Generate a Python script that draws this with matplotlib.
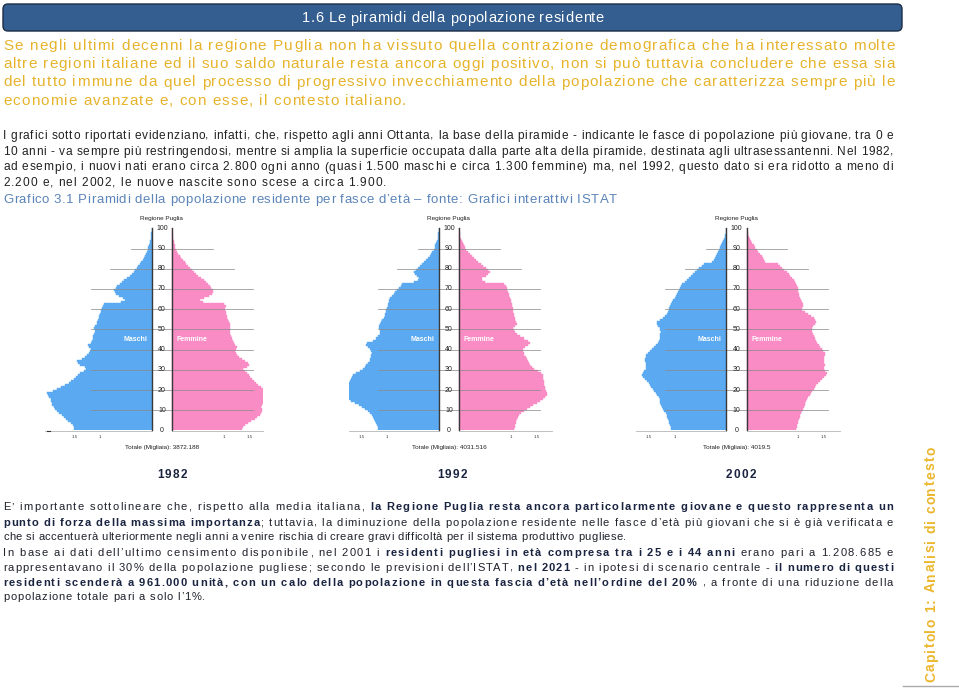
import numpy as np
import matplotlib
matplotlib.use("Agg")
import matplotlib.pyplot as plt
from matplotlib.patches import FancyBboxPatch
from matplotlib.font_manager import FontProperties

FAMILY = ['Liberation Sans', 'DejaVu Sans']
plt.rcParams['font.family'] = FAMILY

# --- Data (Regione Puglia) ---
AGES = np.arange(101)
YEARS = ['1982', '1992', '2002']
TOTALS = ['3872.188', '4031.516', '4019.5']
TICKS = [1, 1.5]
GRID_AGES = [10, 20, 30, 40, 50, 60, 70, 80, 90]

MALE_1982 = [
    1.50, 1.51, 1.53, 1.57, 1.62, 1.66, 1.70, 1.74, 1.79, 1.83,
    1.87, 1.90, 1.93, 1.94, 1.95, 1.96, 1.99, 2.01, 2.02, 1.92,
    1.84, 1.75, 1.68, 1.61, 1.56, 1.51, 1.47, 1.42, 1.38, 1.32,
    1.27, 1.30, 1.39, 1.43, 1.45, 1.36, 1.30, 1.26, 1.21, 1.19,
    1.18, 1.21, 1.23, 1.17, 1.16, 1.14, 1.13, 1.12, 1.10, 1.10,
    1.11, 1.09, 1.07, 1.06, 1.04, 1.03, 1.02, 1.00, 0.99, 0.98,
    0.97, 0.95, 0.93, 0.60, 0.52, 0.56, 0.64, 0.70, 0.72, 0.73,
    0.70, 0.67, 0.62, 0.57, 0.53, 0.48, 0.43, 0.39, 0.35, 0.32,
    0.29, 0.26, 0.23, 0.21, 0.18, 0.16, 0.14, 0.12, 0.10, 0.08,
    0.065, 0.05, 0.04, 0.03, 0.02, 0.015, 0.01, 0.008, 0.005, 0.003,
    0.002]
FEMALE_1982 = [
    1.36, 1.37, 1.42, 1.47, 1.53, 1.60, 1.65, 1.70, 1.73, 1.75,
    1.74, 1.72, 1.74, 1.78, 1.81, 1.84, 1.87, 1.88, 1.84, 1.79,
    1.76, 1.72, 1.67, 1.63, 1.58, 1.55, 1.51, 1.48, 1.45, 1.41,
    1.38, 1.45, 1.49, 1.47, 1.42, 1.35, 1.30, 1.26, 1.23, 1.21,
    1.24, 1.26, 1.22, 1.19, 1.18, 1.16, 1.14, 1.13, 1.12, 1.12,
    1.13, 1.13, 1.12, 1.10, 1.08, 1.07, 1.06, 1.05, 1.04, 1.02,
    1.03, 1.04, 1.00, 0.60, 0.54, 0.62, 0.72, 0.77, 0.79, 0.79,
    0.76, 0.73, 0.70, 0.66, 0.61, 0.56, 0.51, 0.47, 0.42, 0.38,
    0.34, 0.31, 0.28, 0.25, 0.21, 0.18, 0.15, 0.12, 0.10, 0.08,
    0.06, 0.05, 0.04, 0.03, 0.02, 0.015, 0.01, 0.007, 0.005, 0.003,
    0.002]
MALE_1992 = [
    1.17, 1.18, 1.19, 1.21, 1.23, 1.25, 1.28, 1.30, 1.33, 1.37,
    1.42, 1.49, 1.55, 1.63, 1.70, 1.76, 1.80, 1.84, 1.83, 1.81,
    1.79, 1.77, 1.75, 1.73, 1.71, 1.69, 1.68, 1.66, 1.60, 1.52,
    1.46, 1.42, 1.40, 1.37, 1.34, 1.33, 1.32, 1.31, 1.30, 1.31,
    1.33, 1.37, 1.40, 1.38, 1.28, 1.21, 1.17, 1.14, 1.13, 1.13,
    1.16, 1.15, 1.13, 1.11, 1.10, 1.07, 1.05, 1.04, 1.03, 1.02,
    1.00, 0.99, 0.98, 0.97, 0.96, 0.94, 0.91, 0.87, 0.84, 0.80,
    0.77, 0.74, 0.72, 0.48, 0.40, 0.39, 0.42, 0.47, 0.48, 0.45,
    0.41, 0.36, 0.32, 0.28, 0.25, 0.21, 0.18, 0.15, 0.13, 0.10,
    0.08, 0.065, 0.05, 0.035, 0.025, 0.018, 0.012, 0.008, 0.005, 0.003,
    0.002]
FEMALE_1992 = [
    1.07, 1.08, 1.09, 1.10, 1.11, 1.13, 1.15, 1.17, 1.20, 1.25,
    1.31, 1.37, 1.44, 1.51, 1.57, 1.62, 1.67, 1.70, 1.71, 1.68,
    1.66, 1.66, 1.65, 1.65, 1.64, 1.63, 1.63, 1.62, 1.58, 1.53,
    1.46, 1.41, 1.37, 1.35, 1.33, 1.31, 1.29, 1.26, 1.25, 1.24,
    1.23, 1.28, 1.34, 1.37, 1.33, 1.25, 1.18, 1.13, 1.09, 1.06,
    1.05, 1.09, 1.12, 1.10, 1.09, 1.08, 1.07, 1.06, 1.05, 1.05,
    1.04, 1.03, 1.02, 1.01, 1.00, 0.99, 0.97, 0.96, 0.94, 0.93,
    0.92, 0.90, 0.88, 0.50, 0.45, 0.44, 0.52, 0.57, 0.59, 0.56,
    0.52, 0.47, 0.42, 0.37, 0.33, 0.29, 0.25, 0.21, 0.17, 0.14,
    0.11, 0.09, 0.07, 0.05, 0.035, 0.025, 0.017, 0.011, 0.007, 0.004,
    0.002]
MALE_2002 = [
    1.07, 1.08, 1.09, 1.10, 1.11, 1.12, 1.14, 1.15, 1.17, 1.20,
    1.23, 1.25, 1.27, 1.28, 1.29, 1.29, 1.31, 1.34, 1.37, 1.40,
    1.42, 1.45, 1.47, 1.50, 1.54, 1.58, 1.61, 1.63, 1.62, 1.59,
    1.56, 1.55, 1.55, 1.56, 1.58, 1.58, 1.56, 1.55, 1.52, 1.47,
    1.43, 1.39, 1.36, 1.33, 1.31, 1.29, 1.28, 1.28, 1.27, 1.28,
    1.29, 1.33, 1.35, 1.34, 1.28, 1.23, 1.18, 1.14, 1.12, 1.11,
    1.10, 1.09, 1.07, 1.05, 1.03, 1.00, 0.98, 0.96, 0.94, 0.92,
    0.90, 0.88, 0.85, 0.80, 0.77, 0.72, 0.68, 0.64, 0.60, 0.56,
    0.52, 0.48, 0.44, 0.27, 0.23, 0.22, 0.20, 0.19, 0.16, 0.14,
    0.12, 0.10, 0.08, 0.06, 0.045, 0.03, 0.02, 0.013, 0.008, 0.005,
    0.003]
FEMALE_2002 = [
    0.96, 0.97, 0.98, 0.99, 1.00, 1.01, 1.03, 1.04, 1.06, 1.08,
    1.10, 1.12, 1.13, 1.14, 1.15, 1.17, 1.19, 1.22, 1.24, 1.27,
    1.30, 1.33, 1.35, 1.39, 1.43, 1.46, 1.50, 1.54, 1.55, 1.52,
    1.50, 1.50, 1.51, 1.50, 1.49, 1.49, 1.50, 1.52, 1.51, 1.48,
    1.46, 1.43, 1.40, 1.37, 1.34, 1.32, 1.30, 1.28, 1.27, 1.26,
    1.26, 1.29, 1.32, 1.34, 1.33, 1.30, 1.24, 1.19, 1.13, 1.08,
    1.07, 1.09, 1.10, 1.08, 1.06, 1.04, 1.02, 1.01, 1.00, 0.99,
    0.99, 0.98, 0.96, 0.94, 0.91, 0.88, 0.85, 0.82, 0.78, 0.73,
    0.69, 0.65, 0.60, 0.35, 0.33, 0.31, 0.30, 0.27, 0.23, 0.20,
    0.17, 0.14, 0.10, 0.08, 0.06, 0.045, 0.03, 0.02, 0.012, 0.007,
    0.004]

MALES = [MALE_1982, MALE_1992, MALE_2002]
FEMALES = [FEMALE_1982, FEMALE_1992, FEMALE_2002]

# --- Page text ---
TITLE = "1.6 Le piramidi della popolazione residente"
INTRO = [
    "Se negli ultimi decenni la regione Puglia non ha vissuto quella contrazione demografica che ha interessato molte",
    "altre regioni italiane ed il suo saldo naturale resta ancora oggi positivo, non si può tuttavia concludere che essa sia",
    "del tutto immune da quel processo di progressivo invecchiamento della popolazione che caratterizza sempre più le",
    "economie avanzate e, con esse, il contesto italiano.",
]
BODY = [
    "I grafici sotto riportati evidenziano, infatti, che, rispetto agli anni Ottanta, la base della piramide - indicante le fasce di popolazione più giovane, tra 0 e",
    "10 anni - va sempre più restringendosi, mentre si amplia la superficie occupata dalla parte alta della piramide, destinata agli ultrasessantenni. Nel 1982,",
    "ad esempio, i nuovi nati erano circa 2.800 ogni anno (quasi 1.500 maschi e circa 1.300 femmine) ma, nel 1992, questo dato si era ridotto a meno di",
    "2.200 e, nel 2002, le nuove nascite sono scese a circa 1.900.",
]
CAPTION = "Grafico 3.1 Piramidi della popolazione residente per fasce d’età – fonte: Grafici interattivi ISTAT"
N, B = 'normal', 'bold'
CLOSING = [
    [("E’ importante sottolineare che, rispetto alla media italiana, ", N),
     ("la Regione Puglia resta ancora particolarmente giovane e questo rappresenta un", B)],
    [("punto di forza della massima importanza", B),
     ("; tuttavia, la diminuzione della popolazione residente nelle fasce d’età più giovani che si è già verificata e", N)],
    [("che si accentuerà ulteriormente negli anni a venire rischia di creare gravi difficoltà per il sistema produttivo pugliese.", N)],
    [("In base ai dati dell’ultimo censimento disponibile, nel 2001 i ", N),
     ("residenti pugliesi in età compresa tra i 25 e i 44 anni", B),
     (" erano pari a 1.208.685 e", N)],
    [("rappresentavano il 30% della popolazione pugliese; secondo le previsioni dell’ISTAT, ", N),
     ("nel 2021", B), (" - in ipotesi di scenario centrale - ", N), ("il numero di questi", B)],
    [("residenti scenderà a 961.000 unità, con un calo della popolazione in questa fascia d’età nell’ordine del 20%", B),
     (" , a fronte di una riduzione della", N)],
    [("popolazione totale pari a solo l’1%.", N)],
]
SIDE = "Capitolo 1: Analisi di contesto"

W, H = 959, 690
fig = plt.figure(figsize=(W / 100, H / 100), dpi=100)
page = fig.add_axes([0, 0, 1, 1])
page.set_xlim(0, W)
page.set_ylim(H, 0)
page.axis('off')
renderer = fig.canvas.get_renderer()

_adv = {}


def advance(ch, weight, size):
    key = (ch, weight, size)
    if key not in _adv:
        fp = FontProperties(family=FAMILY, weight=weight, size=size)
        w2 = renderer.get_text_width_height_descent('||', fp, ismath=False)[0]
        w3 = renderer.get_text_width_height_descent('|' + ch + '|', fp, ismath=False)[0]
        _adv[key] = w3 - w2
    return _adv[key]


def put_line(segs, x0, x1, y, size, colors, weight=N, vertical=False):
    """Letter-spaced line: the pdf justifies by spreading characters."""
    if isinstance(segs, str):
        segs = [(segs, weight)]
    chars = [(c, w) for text, w in segs for c in text]
    advs = [advance(c, w, size) for c, w in chars]
    track = (abs(x1 - x0) - sum(advs)) / (len(chars) - 1)
    pen = 0.0
    for (c, w), a in zip(chars, advs):
        if c != ' ':
            col = colors[w] if isinstance(colors, dict) else colors
            if vertical:
                page.text(y, x0 - pen - a / 2, c, rotation=90, rotation_mode='anchor',
                          ha='center', va='baseline', fontsize=size, fontweight=w, color=col)
            else:
                page.text(x0 + pen + a / 2, y, c, ha='center', va='baseline',
                          fontsize=size, fontweight=w, color=col)
        pen += a + track


# header bar
page.add_patch(FancyBboxPatch((3, 4), 899, 27, boxstyle='round,pad=0,rounding_size=5',
                              fc='#345E90', ec='#1d2e47', lw=1))
put_line(TITLE, 302, 604, 22.5, 10.5, 'white')

yellow = '#E6B32B'
for line, y, x1 in zip(INTRO, [49.5, 68, 86.5, 105], [895, 895, 895, 406]):
    put_line(line, 3, x1, y, 11, yellow)

for line, y, x1 in zip(BODY, [139, 155, 170.5, 186], [893, 893, 893, 386]):
    put_line(line, 3, x1, y, 8.6, '#222222')

put_line(CAPTION, 3, 617, 203, 9.5, '#5B84B8')

closing_cols = {N: '#1f222c', B: '#1a2440'}
for segs, y, x1 in zip(CLOSING, [510.5, 525.5, 540.5, 556, 571, 585.5, 600],
                       [893, 893, 626, 893, 893, 893, 205]):
    put_line(segs, 3, x1, y, 8, closing_cols)

put_line(SIDE, 682, 447, 935, 10, '#ECB72D', weight=B, vertical=True)
page.plot([903, 959], [686, 686], color='#aaaaaa', lw=1)

# --- pyramids ---
S = 51.7          # pixels per unit on the x scale
G = 0.39          # gap between the two halves (age labels)
Y0, Y100 = 430.5, 228.3
FEM_LINE_X = [172, 459, 746.5]
MALE_EXT = [2.06, 1.74, 1.74]
FEM_EXT = [1.76, 1.79, 1.80]
YEAR_X = [172, 452, 741]
MALE_C, FEM_C = '#5AA9F1', '#F98CC4'

for i in range(3):
    xf, me, fe = FEM_LINE_X[i], MALE_EXT[i], FEM_EXT[i]
    left = xf - (G + me) * S
    width = (G + me + fe) * S
    ax = fig.add_axes([left / W, 1 - Y0 / H, width / W, (Y0 - Y100) / H])
    ax.set_xlim(-G - me, fe)
    ax.set_ylim(0, 100)
    ax.axis('off')
    ax.patch.set_alpha(0)

    male = np.array(MALES[i])
    female = np.array(FEMALES[i])
    ax.barh(AGES, -male, left=-G, height=1, align='edge', color=MALE_C,
            edgecolor=MALE_C, linewidth=0.3)
    ax.barh(AGES, female, left=0, height=1, align='edge', color=FEM_C,
            edgecolor=FEM_C, linewidth=0.3)

    # the grey age guides are centred on the female axis
    for a in GRID_AGES:
        half = 0.79 if a == 90 else (1.19 if a == 80 else 1.57)
        ax.plot([-half, half], [a, a], color='#8a8a8a', lw=0.6, alpha=0.85,
                zorder=3, clip_on=False)

    ax.plot([-G, -G], [0, 100], color='#3a3a3a', lw=1.0, clip_on=False, zorder=4)
    ax.plot([0, 0], [0, 100], color='#3a3a3a', lw=1.0, clip_on=False, zorder=4)
    ax.plot([-G - me, -G], [-0.3, -0.3], color='#b5b5b5', lw=0.6, clip_on=False)
    ax.plot([0, fe], [-0.3, -0.3], color='#b5b5b5', lw=0.6, clip_on=False)
    if me > 2:
        ax.plot([-G - 2.02, -G - 1.97], [-0.3, -0.3], color='#333333', lw=0.8, clip_on=False)

    for a in range(0, 101, 10):
        ax.text(-G / 2, a, str(a), ha='center', va='center', fontsize=5,
                color='#222222', clip_on=False)
    for t in TICKS:
        lab = str(t)
        ax.text(-G - t, -3.3, lab, ha='center', va='center', fontsize=3.2, color='#333333')
        ax.text(t, -3.3, lab, ha='center', va='center', fontsize=3.2, color='#333333')

    ax.text(-G / 2, 104.8, 'Regione Puglia', ha='center', va='center',
            fontsize=4.6, color='#222222')
    ax.text(-G / 2, -8.3, 'Totale (Migliaia): ' + TOTALS[i], ha='center', va='center',
            fontsize=4.6, color='#222222')
    ax.text(-G - 0.32, 45, 'Maschi', ha='center', va='center', fontsize=5,
            fontweight='bold', color='white', zorder=5)
    ax.text(0.39, 45, 'Femmine', ha='center', va='center', fontsize=5,
            fontweight='bold', color='white', zorder=5)

    put_line([(YEARS[i], B)], YEAR_X[i] - 15, YEAR_X[i] + 15, 478, 8.5, '#1a2440')

fig.savefig('out.png', dpi=100)
